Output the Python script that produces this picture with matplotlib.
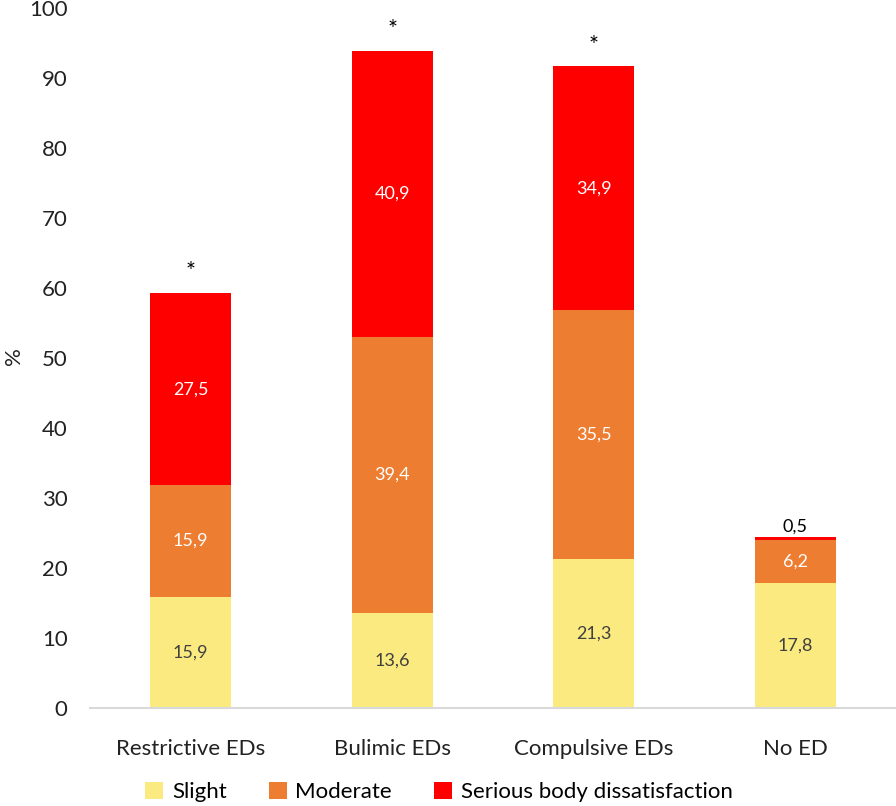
import matplotlib
matplotlib.use("Agg")
import matplotlib.pyplot as plt
import numpy as np

categories = ["Restrictive EDs", "Bulimic EDs", "Compulsive EDs", "No ED"]
slight = [15.9, 13.6, 21.3, 17.8]
moderate = [15.9, 39.4, 35.5, 6.2]
serious = [27.5, 40.9, 34.9, 0.5]
stars = ["*", "*", "*", ""]
series_names = ["Slight", "Moderate", "Serious body dissatisfaction"]
colors = ["#FBEA80", "#ED7D31", "#FF0000"]
label_colors = ["#404040", "white", "white"]

plt.rcParams['font.family'] = ['Lato', 'DejaVu Sans']

fig = plt.figure(figsize=(8.96, 8.06), dpi=100)
ax = fig.add_axes([0.1004, 0.1216, 0.8996, 0.8684])

x = np.arange(len(categories))
width = 0.40
bottoms = np.zeros(len(categories))
for vals, col, name, lc in zip([slight, moderate, serious], colors, series_names, label_colors):
    bars = ax.bar(x, vals, width, bottom=bottoms, color=col, label=name)
    for i, (b, v) in enumerate(zip(bottoms, vals)):
        txt = f"{v:.1f}".replace(".", ",")
        if v < 2:
            ax.text(x[i], b + v + 0.3, txt, ha="center", va="bottom", fontsize=13, color="black")
        else:
            ax.text(x[i], b + v / 2, txt, ha="center", va="center", fontsize=13, color=lc)
    bottoms = bottoms + np.array(vals)

for i, s in enumerate(stars):
    if s:
        ax.text(x[i], bottoms[i] + 1.5, s, ha="center", va="bottom", fontsize=17, color="black")

ax.set_xlim(-0.5, len(categories) - 0.5)
ax.set_ylim(0, 100)
ax.set_yticks(np.arange(0, 101, 10))
ax.set_xticks(x)
ax.set_xticklabels(categories)
ax.tick_params(axis="both", length=0, labelsize=16, colors="#222222")
ax.tick_params(axis="x", pad=22)
ax.tick_params(axis="y", pad=16)
for s in ["top", "right", "left"]:
    ax.spines[s].set_visible(False)
ax.spines["bottom"].set_color("#D9D9D9")
ax.spines["bottom"].set_linewidth(1.5)
fig.text(14 / 896, 1 - 356 / 806, "%", rotation=90, ha="center", va="center",
         fontsize=16, color="#222222")

handles, labels = ax.get_legend_handles_labels()
fig.legend(handles, labels, loc="center", bbox_to_anchor=(0.49, 0.017), ncol=3, frameon=False,
           fontsize=16, handlelength=0.8, handleheight=0.8, handletextpad=0.4, columnspacing=1.9)

fig.savefig("out.png", dpi=100)
